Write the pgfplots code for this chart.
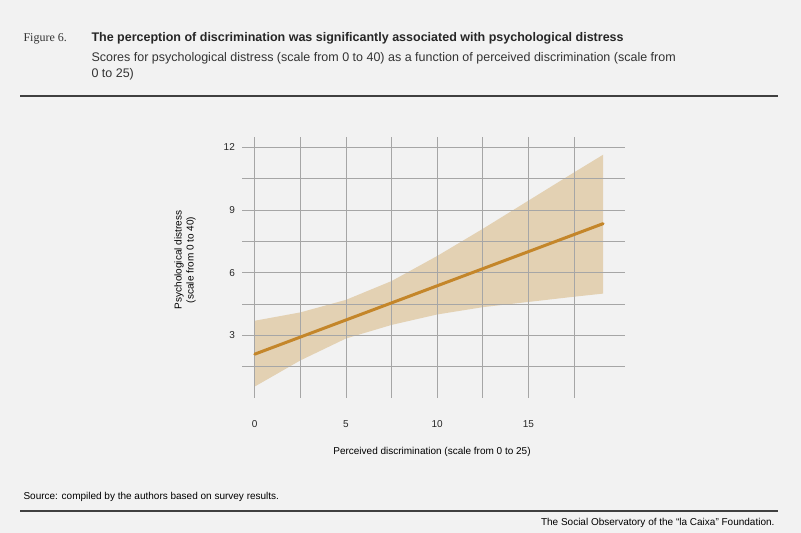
\documentclass[border=0pt]{standalone}
\usepackage{fontspec}
\setmainfont{Liberation Sans}
\newfontfamily\serif{Liberation Serif}
\usepackage{pgfplots}
\pgfplotsset{compat=1.18}
\definecolor{bg}{HTML}{F2F2F2}
\definecolor{ln}{HTML}{C4862A}
\definecolor{band}{HTML}{E3D1B3}
\begin{document}
\begin{tikzpicture}
\fill[bg] (0pt,0pt) rectangle (801pt,533pt);
\node[anchor=base west,font=\serif\fontsize{12}{14}\selectfont,text=black!80] at (20pt,491pt) {Figure 6.};
\node[anchor=base west,font=\bfseries\fontsize{12.5}{15}\selectfont,text=black!85] at (88pt,491pt) {The perception of discrimination was significantly associated with psychological distress};
\node[anchor=base west,font=\fontsize{12.5}{15}\selectfont,text=black!80] at (88pt,471pt) {Scores for psychological distress (scale from 0 to 40) as a function of perceived discrimination (scale from};
\node[anchor=base west,font=\fontsize{12.5}{15}\selectfont,text=black!80] at (88pt,455pt) {0 to 25)};
\draw[black!75,line width=1.5pt] (20pt,437pt) -- (778pt,437pt);
\node[anchor=base west,font=\fontsize{10}{12}\selectfont] at (20pt,33pt) {Source: compiled by the authors based on survey results.};
\draw[black!75,line width=1.5pt] (20pt,22pt) -- (778pt,22pt);
\node[anchor=base east,font=\fontsize{10}{12}\selectfont] at (778pt,7pt) {The Social Observatory of the “la Caixa” Foundation.};
\begin{axis}[at={(242pt,135pt)},anchor=south west,scale only axis,width=383pt,height=261pt,
 xmin=-0.7,xmax=20.3,ymin=0,ymax=12.5,axis lines=none,
 clip=false]
\addplot[band,draw=none,fill=band] coordinates {(0,3.7)(2.5,4.1)(5,4.7)(7.5,5.6)(10,6.8)(12.5,8.1)(15,9.45)(17.5,10.8)(19.1,11.65)
 (19.1,5.0)(17.5,4.85)(15,4.6)(12.5,4.35)(10,4.0)(7.5,3.5)(5,2.85)(2.5,1.8)(0,0.55)} -- cycle;
\foreach \v in {0,2.5,...,17.5} {\edef\t{\noexpand\draw[black!35,line width=0.6pt] (axis cs:\v,0) -- (axis cs:\v,12.5);}\t}
\foreach \v in {1.5,3,...,12} {\edef\t{\noexpand\draw[black!35,line width=0.6pt] (axis cs:-0.7,\v) -- (axis cs:20.3,\v);}\t}
\foreach \v in {0,5,10,15} {\edef\t{\noexpand\node[font=\noexpand\fontsize{10}{12}\noexpand\selectfont,text=black!85] at (axis cs:\v,-1.25) {\v};}\t}
\foreach \v in {3,6,9,12} {\edef\t{\noexpand\node[anchor=east,font=\noexpand\fontsize{10}{12}\noexpand\selectfont,text=black!85] at (axis cs:-0.9,\v) {\v};}\t}
\addplot[ln,line width=3pt,line cap=round] coordinates {(0,2.1)(19.1,8.35)};
\end{axis}
\node[rotate=90,align=center,font=\fontsize{10}{12}\selectfont] at (185pt,273pt) {Psychological distress\\(scale from 0 to 40)};
\node[font=\fontsize{10}{12}\selectfont] at (432pt,81pt) {Perceived discrimination (scale from 0 to 25)};
\end{tikzpicture}
\end{document}
